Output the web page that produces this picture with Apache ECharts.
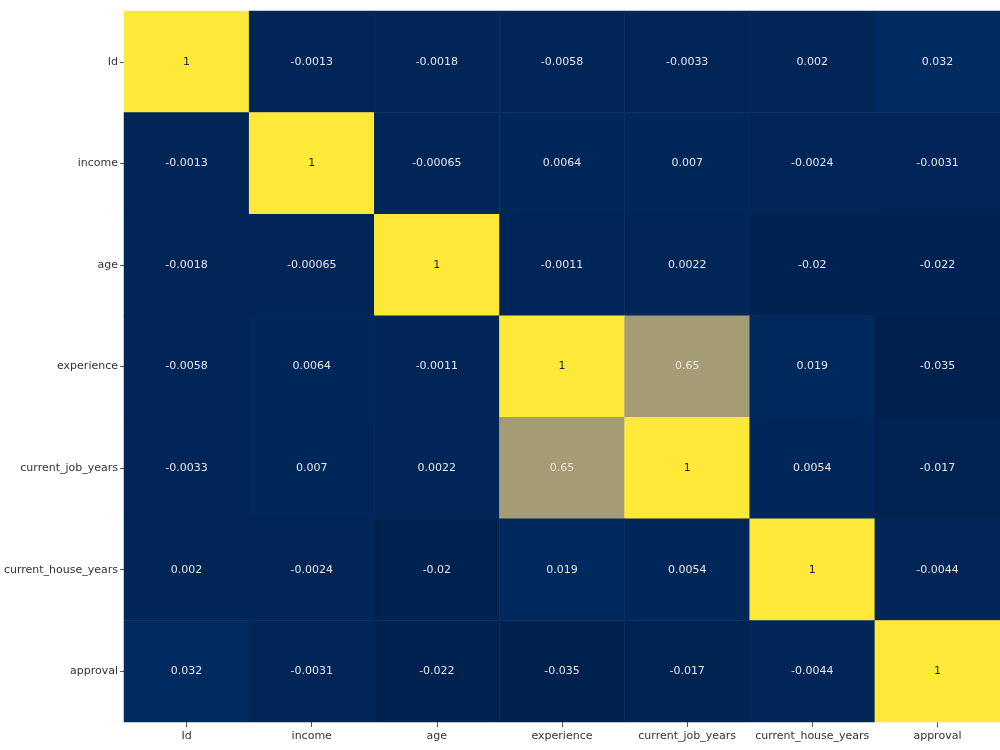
<!DOCTYPE html>
<html>
<head>
<meta charset="UTF-8">
<title>heatmap</title>
<script src="https://cdn.jsdelivr.net/npm/echarts@6/dist/echarts.min.js"></script>
<style>
  html, body { margin: 0; padding: 0; background: #fff; }
  #main { width: 1000px; height: 750px; }
</style>
</head>
<body>
<div id="main"></div>
<script>
// 变量名
var names = ['Id', 'income', 'age', 'experience', 'current_job_years', 'current_house_years', 'approval'];
// 相关系数矩阵（按行）
var rowId = [1, -0.0013, -0.0018, -0.0058, -0.0033, 0.002, 0.032];
var rowIncome = [-0.0013, 1, -0.00065, 0.0064, 0.007, -0.0024, -0.0031];
var rowAge = [-0.0018, -0.00065, 1, -0.0011, 0.0022, -0.02, -0.022];
var rowExperience = [-0.0058, 0.0064, -0.0011, 1, 0.65, 0.019, -0.035];
var rowJobYears = [-0.0033, 0.007, 0.0022, 0.65, 1, 0.0054, -0.017];
var rowHouseYears = [0.002, -0.0024, -0.02, 0.019, 0.0054, 1, -0.0044];
var rowApproval = [0.032, -0.0031, -0.022, -0.035, -0.017, -0.0044, 1];
var rows = [rowId, rowIncome, rowAge, rowExperience, rowJobYears, rowHouseYears, rowApproval];

// cividis 色带
var cividis = ['#00204d', '#00336f', '#39486b', '#575c6d', '#707173', '#8a8779', '#a69d75', '#c4b56c', '#e4cf5b', '#fee838'];

var data = [];
rows.forEach(function (row, i) {
  row.forEach(function (v, j) {
    data.push({
      value: [j, i, v],
      label: { color: v > 0.8 ? '#262626' : '#e6e6e6' }
    });
  });
});

var myChart = echarts.init(document.getElementById('main'));
var option = {
  backgroundColor: '#fff',
  animation: false,
  grid: { left: 124, right: 0, top: 11, bottom: 28 },
  xAxis: {
    type: 'category',
    data: names,
    axisLine: { show: false },
    axisTick: { show: true, alignWithLabel: true, interval: 0, length: 5, lineStyle: { color: '#555' } },
    axisLabel: { color: '#333', fontSize: 11, fontFamily: 'DejaVu Sans', margin: 9, interval: 0 },
    splitLine: { show: false },
    splitArea: { show: false }
  },
  yAxis: {
    type: 'category',
    data: names,
    inverse: true,
    axisLine: { show: false },
    axisTick: { show: true, alignWithLabel: true, interval: 0, length: 4, lineStyle: { color: '#555' } },
    axisLabel: { color: '#333', fontSize: 11, fontFamily: 'DejaVu Sans', margin: 6, interval: 0 },
    splitLine: { show: false }
  },
  visualMap: {
    show: false,
    min: -0.035,
    max: 1,
    dimension: 2,
    inRange: { color: cividis }
  },
  series: [{
    type: 'heatmap',
    data: data,
    label: {
      show: true,
      fontSize: 11,
      fontFamily: 'DejaVu Sans',
      formatter: function (p) { return String(p.value[2]); }
    },
    itemStyle: { borderWidth: 0 },
    emphasis: { disabled: true }
  }]
};
myChart.setOption(option);
</script>
</body>
</html>
